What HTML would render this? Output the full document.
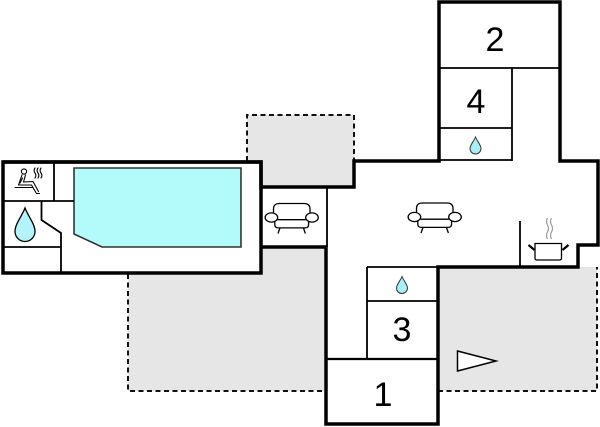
<!DOCTYPE html>
<html><head><meta charset="utf-8"><style>
html,body{margin:0;padding:0;background:#fff;}
svg{display:block;}
text{font-family:"Liberation Sans",Arial,sans-serif;font-size:34px;fill:#000;}
</style></head><body>
<svg width="600" height="427" viewBox="0 0 600 427" xmlns="http://www.w3.org/2000/svg">
<!-- gray terraces -->
<g fill="#e6e6e6" stroke="none">
<polygon points="247,115 354,115 354,187 261,187 261,161 247,161"/>
<polygon points="128,273 261,273 261,247 326,247 326,391 128,391"/>
<polygon points="438,267 597,267 597,391 438,391"/>
</g>
<g fill="none" stroke="#111" stroke-width="2" stroke-dasharray="5,3.5">
<path d="M247,161 V115 H354 V161"/>
<path d="M128,274 V391 H326"/>
<path d="M438,391 H597 V267"/>
</g>
<!-- pool -->
<polygon points="74,168 241,168 241,247 102,247 74,234" fill="#b3fbfb" stroke="#333" stroke-width="1.6"/>
<!-- thin interior lines -->
<g stroke="#000" stroke-width="1.8" fill="none">
<path d="M54,162 V201"/>
<path d="M3,201 H74"/>
<path d="M41.5,201 V220 L61,233 V273"/>
<path d="M3,247 H61"/>
<path d="M439,68 H560"/>
<path d="M512,68 V161"/>
<path d="M439,128 H512"/>
<path d="M439,160 H512"/>
<path d="M327,187 V247"/>
<path d="M367,267 V359"/>
<path d="M367,267 H438"/>
<path d="M367,301 H438"/>
<path d="M326,359 H438" stroke-width="2.2"/>
<path d="M520,221 V267"/>
</g>
<!-- thick walls -->
<g stroke="#000" stroke-width="3.5" fill="none" stroke-linejoin="miter">
<path d="M3,162 L261,162 L261,187 L354,187 L354,161 L439,161 L439,2 L560,2 L560,161 L598,161 L598,245 L578,245 L578,267 L438,267 L438,424 L326,424 L326,247 L261,247"/>
<path d="M261,162 L261,273 L3,273 L3,162 Z"/>
</g>
<!-- room numbers -->
<text x="495" y="51" text-anchor="middle">2</text>
<text x="476" y="113" text-anchor="middle">4</text>
<text x="402" y="341" text-anchor="middle">3</text>
<text x="383" y="406" text-anchor="middle">1</text>
<!-- droplets -->
<g fill="#b3f3fa" stroke="#000" stroke-width="1.3">
<path d="M25,208 C28,216 35,224 35,231.5 A10,10 0 0 1 15,231.5 C15,224 22,216 25,208 Z"/>
</g>
<g fill="#a8eef6" stroke="#333" stroke-width="1">
<path d="M475.5,137 C477,141 481,145 481,148.5 A5.5,5.5 0 0 1 470,148.5 C470,145 474,141 475.5,137 Z"/>
<path d="M402,276.5 C403.5,280.5 407.5,284.5 407.5,288 A5.5,5.5 0 0 1 396.5,288 C396.5,284.5 400.5,280.5 402,276.5 Z"/>
</g>
<!-- sofas -->
<g id="sofa" fill="none" stroke="#000" stroke-width="1.3" transform="translate(265,203.5)">
<path d="M8.5,11 V5.5 Q8.5,0 14.5,0 H39 Q45,0 45,5.5 V11"/>
<path d="M12.6,16.2 H40.8"/>
<path d="M9.8,18 V21 Q9.8,24.4 13.3,24.4 H40.1 Q43.6,24.4 43.6,21 V18"/>
<path d="M15,24.4 L13,30 M38.4,24.4 L40.4,30"/>
<ellipse cx="6.4" cy="14" rx="6.3" ry="4.6" fill="#fff"/>
<ellipse cx="47" cy="14" rx="6.3" ry="4.6" fill="#fff"/>
</g>
<g fill="none" stroke="#000" stroke-width="1.3" transform="translate(408,203)">
<path d="M8.5,11 V5.5 Q8.5,0 14.5,0 H39 Q45,0 45,5.5 V11"/>
<path d="M12.6,16.2 H40.8"/>
<path d="M9.8,18 V21 Q9.8,24.4 13.3,24.4 H40.1 Q43.6,24.4 43.6,21 V18"/>
<path d="M15,24.4 L13,30 M38.4,24.4 L40.4,30"/>
<ellipse cx="6.4" cy="14" rx="6.3" ry="4.6" fill="#fff"/>
<ellipse cx="47" cy="14" rx="6.3" ry="4.6" fill="#fff"/>
</g>
<!-- sauna icon -->
<g fill="none" stroke="#000" stroke-width="1.1" stroke-linecap="round" stroke-linejoin="round">
<circle cx="24" cy="171.5" r="2.6"/>
<path d="M22,175 L18.5,185 L31.5,185 L36.5,193.5 L39.5,193.5"/>
<path d="M25.5,175 L23.5,182 L33,181.5 L38.5,191.5"/>
<path d="M22.5,178 L20,183"/>
<path d="M15,187.5 H33"/>
<path d="M35,168 q-1.8,2.5 0,5 q1.8,2.5 0,5"/>
<path d="M38,168 q-1.8,2.5 0,5 q1.8,2.5 0,5"/>
<path d="M41,168 q-1.8,2.5 0,5 q1.8,2.5 0,5"/>
</g>
<!-- pot -->
<g fill="none" stroke="#999" stroke-width="1.2">
<path d="M547.5,218 q-2,3.5 0,7 q2,3.5 0,7 q-2,3.5 0,7"/>
<path d="M551.5,218 q-2,3.5 0,7 q2,3.5 0,7 q-2,3.5 0,7"/>
</g>
<g fill="none" stroke="#000">
<path d="M535,243.5 H561.5 V258 Q561.5,260 559.5,260 H537 Q535,260 535,258 Z" fill="#fff" stroke-width="1.3"/>
<path d="M528.5,245 L534.5,250 M568.5,245 L562.5,250" stroke-width="2.2"/>
</g>
<!-- entrance triangle -->
<polygon points="457.5,351 496,361 457.5,371" fill="#fff" stroke="#000" stroke-width="1.5"/>
</svg>
</body></html>
